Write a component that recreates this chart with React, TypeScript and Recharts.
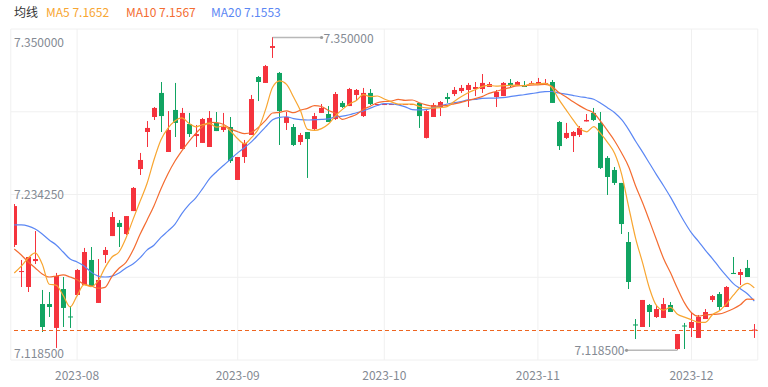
import {
  ComposedChart,
  Bar,
  Line,
  XAxis,
  YAxis,
  CartesianGrid,
  ReferenceLine,
  ReferenceDot,
} from 'recharts';

// Daily candles, weekdays from 2023-07-19 to 2023-12-14
const START_DATE = '2023-07-19';

const OPEN = [
  7.1961, 7.1761, 7.165, 7.1842, 7.1524, 7.1524, 7.1347, 7.1635, 7.1432, 7.1591,
  7.1665, 7.185, 7.1532, 7.1887, 7.2027, 7.2124, 7.2042, 7.2212, 7.2523, 7.2797,
  7.2908, 7.3086, 7.2649, 7.296, 7.2671, 7.2856, 7.2767, 7.2716, 7.2686, 7.2864,
  7.2812, 7.2834, 7.2442, 7.2612, 7.2775, 7.3204, 7.316, 7.3419, 7.3234, 7.2864,
  7.2834, 7.2723, 7.2797, 7.2819, 7.2938, 7.293, 7.2893, 7.3012, 7.2989, 7.3071,
  7.2915, 7.3086, 7.3004, 7.3004, 7.3004, 7.3004, 7.3004, 7.3004, 7.3012, 7.2753,
  7.2908, 7.2982, 7.3056, 7.3078, 7.31, 7.3108, 7.3115, 7.3115, 7.313, 7.3056,
  7.3063, 7.316, 7.3145, 7.3145, 7.3152, 7.3152, 7.3152, 7.3167, 7.2871, 7.2753,
  7.2767, 7.2775, 7.2875, 7.2938, 7.2864, 7.2605, 7.2516, 7.242, 7.1983, 7.1373,
  7.1354, 7.1517, 7.1428, 7.1421, 7.1517, 7.1191, 7.1365, 7.1347, 7.1273, 7.1413,
  7.1554, 7.1598, 7.1502, 7.1754, 7.1739, 7.1791, 7.1328,
];
const HIGH = [
  7.2264, 7.185, 7.1872, 7.2064, 7.1628, 7.1613, 7.1754, 7.1724, 7.1509, 7.1783,
  7.1939, 7.1946, 7.1857, 7.1946, 7.2205, 7.2146, 7.2175, 7.239, 7.2642, 7.2878,
  7.2982, 7.3167, 7.2952, 7.316, 7.2975, 7.2938, 7.2849, 7.2901, 7.2952, 7.2945,
  7.2938, 7.2908, 7.2612, 7.2738, 7.3071, 7.3211, 7.3293, 7.35, 7.3241, 7.2945,
  7.2856, 7.279, 7.2797, 7.2938, 7.3004, 7.2989, 7.3093, 7.3026, 7.3123, 7.3115,
  7.3123, 7.3115, 7.3004, 7.3004, 7.3004, 7.3004, 7.3004, 7.3004, 7.3012, 7.296,
  7.3012, 7.3026, 7.3086, 7.313, 7.3145, 7.316, 7.3167, 7.3226, 7.3167, 7.3108,
  7.3167, 7.3189, 7.3174, 7.3174, 7.3174, 7.3197, 7.3189, 7.3182, 7.2878, 7.2864,
  7.2804, 7.2841, 7.293, 7.2975, 7.2945, 7.2619, 7.2538, 7.242, 7.2057, 7.1413,
  7.1554, 7.1524, 7.1517, 7.1569, 7.1539, 7.1302, 7.1384, 7.1465, 7.1443, 7.1487,
  7.1591, 7.1613, 7.1657, 7.1872, 7.1783, 7.185, 7.1376,
];
const LOW = [
  7.1946, 7.165, 7.1613, 7.182, 7.1317, 7.1428, 7.1199, 7.1354, 7.1347, 7.1583,
  7.1665, 7.165, 7.1532, 7.1828, 7.2027, 7.1946, 7.2035, 7.2212, 7.2479, 7.2686,
  7.2886, 7.2797, 7.2649, 7.276, 7.2671, 7.276, 7.2686, 7.2716, 7.2686, 7.2804,
  7.2797, 7.2568, 7.2442, 7.2568, 7.2775, 7.3026, 7.316, 7.3345, 7.2701, 7.2812,
  7.2693, 7.2701, 7.2457, 7.2812, 7.2938, 7.2871, 7.2886, 7.2975, 7.2989, 7.3034,
  7.2908, 7.2997, 7.3004, 7.3004, 7.3004, 7.3004, 7.3004, 7.3004, 7.2827, 7.2749,
  7.2908, 7.2915, 7.3012, 7.3063, 7.3086, 7.2982, 7.3063, 7.3086, 7.313, 7.2982,
  7.3063, 7.313, 7.3145, 7.313, 7.3152, 7.3152, 7.3152, 7.3012, 7.2664, 7.2745,
  7.2649, 7.276, 7.2875, 7.2878, 7.2523, 7.2331, 7.2405, 7.2042, 7.1635, 7.1265,
  7.1354, 7.1354, 7.1421, 7.1421, 7.1465, 7.1185, 7.1191, 7.128, 7.1273, 7.1413,
  7.1539, 7.148, 7.1502, 7.1746, 7.1665, 7.1724, 7.1273,
];
const CLOSE = [
  7.2249, 7.1768, 7.1872, 7.1857, 7.1354, 7.1502, 7.1731, 7.1495, 7.1428, 7.1776,
  7.1909, 7.1657, 7.1702, 7.1924, 7.2168, 7.2094, 7.2175, 7.2383, 7.259, 7.2827,
  7.2975, 7.2915, 7.2812, 7.2864, 7.2938, 7.2782, 7.2782, 7.2893, 7.2901, 7.2804,
  7.2834, 7.2582, 7.2612, 7.2716, 7.3041, 7.3167, 7.3285, 7.3433, 7.2952, 7.2908,
  7.2701, 7.2775, 7.2745, 7.2915, 7.2975, 7.2871, 7.3078, 7.2982, 7.3115, 7.3108,
  7.3086, 7.3004, 7.3004, 7.3004, 7.3004, 7.3004, 7.3004, 7.3004, 7.2915, 7.2952,
  7.2997, 7.3019, 7.3041, 7.3108, 7.3123, 7.3145, 7.313, 7.316, 7.3152, 7.3093,
  7.316, 7.3145, 7.3167, 7.313, 7.316, 7.3167, 7.316, 7.3012, 7.2693, 7.279,
  7.2797, 7.2827, 7.2886, 7.2886, 7.2531, 7.2464, 7.242, 7.2116, 7.1687, 7.1365,
  7.1554, 7.1465, 7.1487, 7.1524, 7.1465, 7.1302, 7.1358, 7.1391, 7.1428, 7.1465,
  7.1583, 7.1502, 7.165, 7.1746, 7.1761, 7.1724, 7.1335,
];

// MA values at the left edge, where the window starts before the first candle
const MA5_HEAD = [7.1754, 7.1805, 7.1865, 7.1902];
const MA10_HEAD = [7.1931, 7.1887, 7.1835, 7.1791, 7.1746, 7.1724, 7.1731, 7.1739, 7.1724];
const MA20_HEAD = [
  7.2109, 7.2109, 7.2101, 7.2079, 7.2042, 7.1998, 7.1961, 7.1909, 7.1857, 7.1835,
  7.1805, 7.1761, 7.1731, 7.1724, 7.1731, 7.1754, 7.1791, 7.182, 7.1865,
];

const LEGEND_VALUES = ['7.1652', '7.1567', '7.1553'];

const RED = '#f5333d';
const GREEN = '#11a462';
const MA5_COLOR = '#f8a631';
const MA10_COLOR = '#f46c31';
const MA20_COLOR = '#5b87f4';
const LAST_COLOR = '#ee6520';
const GRID_COLOR = '#f0f0f0';
const AXIS_TEXT = '#848a93';
const FONT = '"Noto Sans CJK SC", "Noto Sans", sans-serif';

const MARGIN = { top: 29, right: 10.2, bottom: 0, left: 10.8 };
const CLIP_LEFT = 14;
const Y_DOMAIN = [7.11098, 7.35592];

function tradingDays(start: string, n: number) {
  const out: string[] = [];
  const d = new Date(start + 'T00:00:00Z');
  while (out.length < n) {
    const wd = d.getUTCDay();
    if (wd !== 0 && wd !== 6) out.push(d.toISOString().slice(0, 10));
    d.setUTCDate(d.getUTCDate() + 1);
  }
  return out;
}

function movingAvg(n: number, head: number[]) {
  return CLOSE.map((_, i) => {
    if (i < n - 1) return head[i];
    let s = 0;
    for (let k = i - n + 1; k <= i; k++) s += CLOSE[k];
    return s / n;
  });
}

const DATES = tradingDays(START_DATE, CLOSE.length);
const MONTH_TICKS = DATES.filter((d, i) => i > 0 && d.slice(0, 7) !== DATES[i - 1].slice(0, 7));

const MA5 = movingAvg(5, MA5_HEAD);
const MA10 = movingAvg(10, MA10_HEAD);
const MA20 = movingAvg(20, MA20_HEAD);

const data = DATES.map((date, i) => ({
  date,
  open: OPEN[i],
  high: HIGH[i],
  low: LOW[i],
  close: CLOSE[i],
  range: [LOW[i], HIGH[i]],
  ma5: MA5[i],
  ma10: MA10[i],
  ma20: MA20[i],
}));

const MAX_HIGH = Math.max(...HIGH);
const MIN_LOW = Math.min(...LOW);
const MAX_DATE = DATES[HIGH.indexOf(MAX_HIGH)];
const MIN_DATE = DATES[LOW.indexOf(MIN_LOW)];
const MID = (MAX_HIGH + MIN_LOW) / 2;
const LAST_CLOSE = CLOSE[CLOSE.length - 1];

function Candle(props: any) {
  const { x, y, width, height, payload } = props;
  if (x == null || !payload) return null;
  const { open, close, high, low } = payload;
  const color = close >= open ? RED : GREEN;
  const top = Math.min(y, y + height);
  const h = Math.abs(height);
  const k = high > low ? h / (high - low) : 0;
  const py = (v: number) => top + (high - v) * k;
  const cx = Math.floor(x + width / 2) + 0.5;
  const bodyTop = py(Math.max(open, close));
  const bodyH = Math.max(1, py(Math.min(open, close)) - bodyTop);
  // first candle sits on the plot's left edge and is half cut off
  const left = Math.max(cx - 2.5, CLIP_LEFT + 0.5);
  const right = cx + 2.5;
  return (
    <g>
      {h > 0 && <line x1={cx} x2={cx} y1={top} y2={top + h} stroke={color} strokeWidth={1} />}
      <rect x={left} y={bodyTop} width={right - left} height={bodyH} fill={color} />
    </g>
  );
}

// dashed line at the last close
function LastPriceLine(props: any) {
  const { x1, x2, y1 } = props;
  const yy = Math.round(y1) + 0.5;
  return (
    <line
      x1={Math.max(x1, CLIP_LEFT)}
      x2={x2}
      y1={yy}
      y2={yy}
      stroke={LAST_COLOR}
      strokeWidth={1}
      strokeDasharray="4 3"
    />
  );
}

function PriceTick(props: any) {
  const { y, payload } = props;
  const v = payload.value;
  // top and bottom labels sit a little under their line
  const dy = v === MAX_HIGH ? 4 : v === MIN_LOW ? 3 : 0;
  return (
    <text
      x={CLIP_LEFT}
      y={y + dy}
      dominantBaseline="central"
      fontSize={12}
      fontFamily={FONT}
      fill={AXIS_TEXT}
    >
      {v.toFixed(6)}
    </text>
  );
}

function DateTick(props: any) {
  const { x, payload } = props;
  return (
    <text
      x={x}
      y={374}
      textAnchor="middle"
      dominantBaseline="central"
      fontSize={12}
      fontFamily={FONT}
      fill={AXIS_TEXT}
    >
      {String(payload.value).slice(0, 7)}
    </text>
  );
}

function MaxMark(props: any) {
  const { cx, cy } = props;
  return (
    <g>
      <line x1={cx} y1={cy + 0.5} x2={cx + 49} y2={cy + 0.5} stroke="#b8b8b8" strokeWidth={1.5} />
      <circle cx={cx + 49} cy={cy + 0.5} r={1.6} fill="#9a9a9a" />
      <text x={cx + 51} y={cy} dominantBaseline="central" fontSize={12} fontFamily={FONT} fill={AXIS_TEXT}>
        {MAX_HIGH.toFixed(6)}
      </text>
    </g>
  );
}

function MinMark(props: any) {
  const { cx, cy } = props;
  return (
    <g>
      <line x1={cx} y1={cy + 0.5} x2={cx - 51} y2={cy + 0.5} stroke="#b8b8b8" strokeWidth={1.5} />
      <circle cx={cx - 51} cy={cy + 0.5} r={1.6} fill="#9a9a9a" />
      <text x={cx - 53} y={cy} textAnchor="end" dominantBaseline="central" fontSize={12} fontFamily={FONT} fill={AXIS_TEXT}>
        {MIN_LOW.toFixed(6)}
      </text>
    </g>
  );
}

const legendItems = [
  { label: 'MA5', color: MA5_COLOR, left: 46 },
  { label: 'MA10', color: MA10_COLOR, left: 126 },
  { label: 'MA20', color: MA20_COLOR, left: 211 },
];

export default function App() {
  return (
    <div
      style={{
        position: 'absolute',
        left: 0,
        top: 0,
        width: 768,
        height: 387,
        background: '#fff',
        fontFamily: FONT,
      }}
    >
      <div style={{ position: 'absolute', left: 14, top: 4, fontSize: 12, lineHeight: '16px', color: '#333' }}>
        均线
      </div>
      {legendItems.map((item, i) => (
        <div
          key={item.label}
          style={{
            position: 'absolute',
            left: item.left,
            top: 4,
            fontSize: 12,
            lineHeight: '16px',
            color: item.color,
            whiteSpace: 'nowrap',
          }}
        >
          {item.label} {LEGEND_VALUES[i]}
        </div>
      ))}
      <ComposedChart width={768} height={387} data={data} margin={MARGIN}>
        <CartesianGrid
          stroke={GRID_COLOR}
          horizontalCoordinatesGenerator={({ offset }: any) =>
            [0, 1, 2, 3, 4].map((k) => offset.top + (k * offset.height) / 4)
          }
        />
        <XAxis
          dataKey="date"
          ticks={MONTH_TICKS}
          interval={0}
          height={27}
          axisLine={false}
          tickLine={false}
          tick={<DateTick />}
        />
        <YAxis
          domain={Y_DOMAIN}
          allowDataOverflow
          ticks={[MIN_LOW, MID, MAX_HIGH]}
          mirror
          axisLine={false}
          tickLine={false}
          tick={<PriceTick />}
        />
        <Bar dataKey="range" shape={Candle} isAnimationActive={false} />
        <Line type="monotone" dataKey="ma20" stroke={MA20_COLOR} strokeWidth={1.2} dot={false} isAnimationActive={false} />
        <Line type="monotone" dataKey="ma10" stroke={MA10_COLOR} strokeWidth={1.2} dot={false} isAnimationActive={false} />
        <Line type="monotone" dataKey="ma5" stroke={MA5_COLOR} strokeWidth={1.2} dot={false} isAnimationActive={false} />
        <ReferenceLine y={LAST_CLOSE} shape={LastPriceLine} />
        <ReferenceDot x={MAX_DATE} y={MAX_HIGH} shape={MaxMark} />
        <ReferenceDot x={MIN_DATE} y={MIN_LOW} shape={MinMark} />
      </ComposedChart>
    </div>
  );
}
